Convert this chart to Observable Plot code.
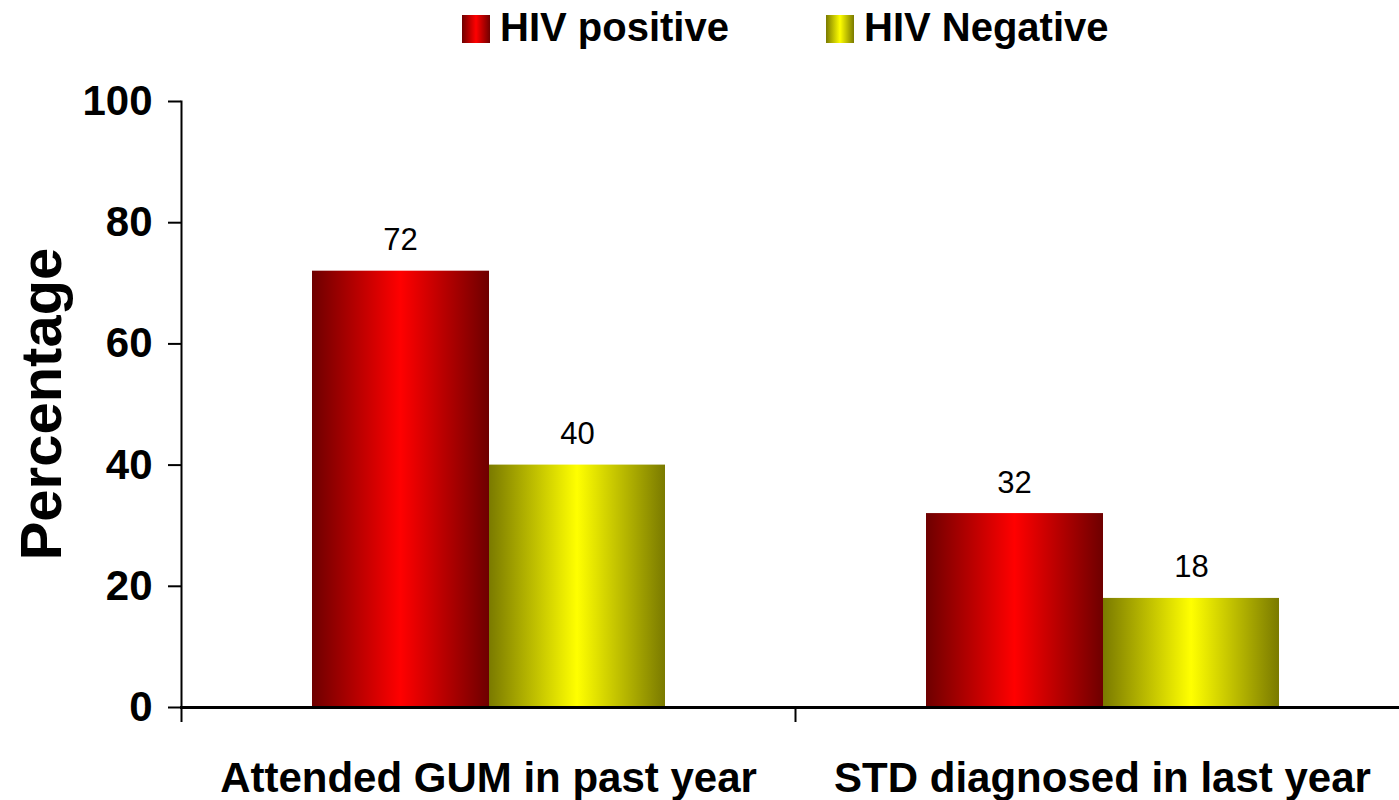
<!DOCTYPE html>
<html>
<head>
<meta charset="utf-8">
<script src="https://cdn.jsdelivr.net/npm/d3@7"></script>
<script src="https://cdn.jsdelivr.net/npm/@observablehq/plot@0.6"></script>
<style>
  html, body { margin: 0; padding: 0; background: #fff; overflow: hidden; width: 1399px; height: 800px; }
  body { font-family: "Liberation Sans", Arial, sans-serif; }
  #legend { height: 55px; position: relative; }
  .item { position: absolute; top: 0; display: flex; align-items: center; height: 55px; font-weight: bold; font-size: 40px; color: #000; }
  .sw { width: 28px; height: 28px; margin-right: 10px; margin-top: 2px; }
  #chart svg { display: block; max-width: none !important; }
</style>
</head>
<body>
<div id="legend"></div>
<div id="chart"></div>
<script>
const categories = ["Attended GUM in past year", "STD diagnosed in last year"];
const seriesNames = ["HIV positive", "HIV Negative"];
const hivPositive = [72, 32];
const hivNegative = [40, 18];
const yTicks = [0, 20, 40, 60, 80, 100];

const posData = categories.map((c, i) => ({category: c, value: hivPositive[i]}));
const negData = categories.map((c, i) => ({category: c, value: hivNegative[i]}));

// Legend
const legend = document.getElementById("legend");
const legendItems = [
  {name: seriesNames[0], grad: "linear-gradient(to right, #700000, #ff0000 50%, #700000)", left: 462},
  {name: seriesNames[1], grad: "linear-gradient(to right, #7a7a00, #ffff00 50%, #7a7a00)", left: 826}
];
for (const it of legendItems) {
  const d = document.createElement("div");
  d.className = "item";
  d.style.left = it.left + "px";
  const s = document.createElement("div");
  s.className = "sw";
  s.style.background = it.grad;
  d.appendChild(s);
  const t = document.createElement("span");
  t.textContent = it.name;
  d.appendChild(t);
  legend.appendChild(d);
}

const chart = Plot.plot({
  width: 1409,
  height: 745,
  marginTop: 46,
  marginBottom: 93,
  marginLeft: 181,
  marginRight: 0,
  style: {fontFamily: "Liberation Sans, Arial, sans-serif", background: "white", color: "black", overflow: "visible", maxWidth: "none"},
  x: {domain: categories, padding: 0, axis: null},
  y: {domain: [0, 100], axis: null},
  marks: [
    Plot.barY(posData, {x: "category", y: "value", fill: "url(#gradRed)", insetLeft: 131, insetRight: 306}),
    Plot.barY(negData, {x: "category", y: "value", fill: "url(#gradYellow)", insetLeft: 308, insetRight: 130}),
    Plot.text(posData, {x: "category", y: "value", text: d => String(d.value), dx: -88, dy: -31, fontSize: 31, fill: "black"}),
    Plot.text(negData, {x: "category", y: "value", text: d => String(d.value), dx: 89, dy: -31, fontSize: 31, fill: "black"}),
    Plot.axisY({ticks: yTicks, tickSize: 13, tickPadding: 16, fontSize: 42, fontWeight: "bold", strokeWidth: 2, label: null, tickFormat: d => String(d)}),
    Plot.axisX({tickSize: 0, tickPadding: 55, fontSize: 42, fontWeight: "bold", label: null}),
    Plot.axisX({tickSize: 15, tickFormat: () => "", dx: -307, strokeWidth: 2, label: null}),
    Plot.frame({anchor: "left", strokeWidth: 2}),
    Plot.frame({anchor: "bottom", strokeWidth: 3})
  ]
});

const ns = "http://www.w3.org/2000/svg";
const defs = document.createElementNS(ns, "defs");
function grad(id, edge, mid) {
  const g = document.createElementNS(ns, "linearGradient");
  g.setAttribute("id", id);
  g.setAttribute("x1", "0"); g.setAttribute("x2", "1");
  g.setAttribute("y1", "0"); g.setAttribute("y2", "0");
  [[0, edge], [0.5, mid], [1, edge]].forEach(([o, c]) => {
    const s = document.createElementNS(ns, "stop");
    s.setAttribute("offset", o);
    s.setAttribute("stop-color", c);
    g.appendChild(s);
  });
  defs.appendChild(g);
}
grad("gradRed", "#6e0000", "#ff0000");
grad("gradYellow", "#7a7a00", "#ffff00");
chart.insertBefore(defs, chart.firstChild);

// y-axis title as real text
const yl = document.createElementNS(ns, "text");
yl.setAttribute("transform", "translate(40,349) rotate(-90)");
yl.setAttribute("text-anchor", "middle");
yl.setAttribute("dominant-baseline", "central");
yl.setAttribute("font-size", "58");
yl.setAttribute("font-weight", "bold");
yl.setAttribute("fill", "black");
yl.textContent = "Percentage";
chart.appendChild(yl);

document.getElementById("chart").appendChild(chart);
</script>
</body>
</html>
